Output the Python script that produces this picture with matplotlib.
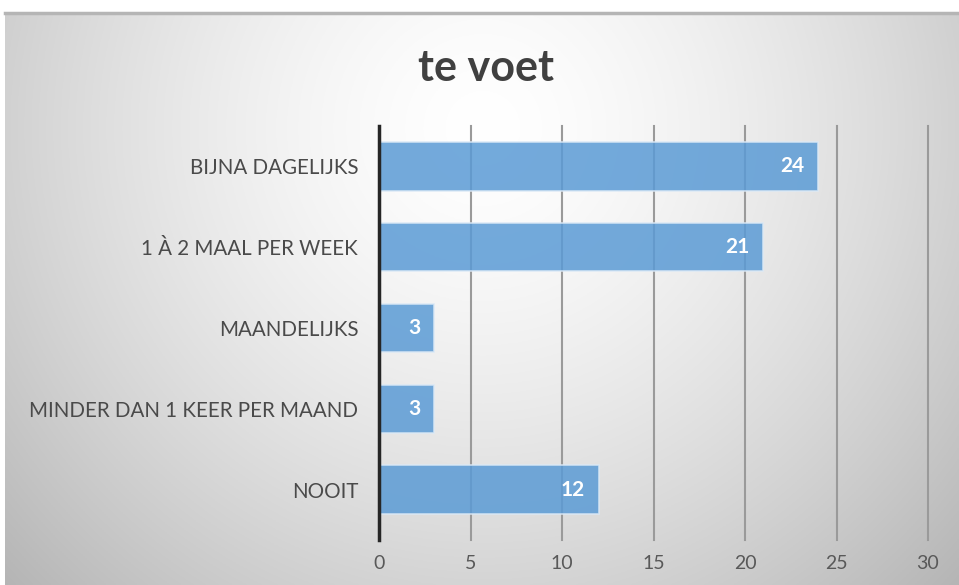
import numpy as np
import matplotlib
matplotlib.use("Agg")
import matplotlib.pyplot as plt

categories = ["BIJNA DAGELIJKS", "1 À 2 MAAL PER WEEK", "MAANDELIJKS",
              "MINDER DAN 1 KEER PER MAAND", "NOOIT"]
values = [24, 21, 3, 3, 12]
xticks = [0, 5, 10, 15, 20, 25, 30]
title = "te voet"

plt.rcParams['font.family'] = ['Lato', 'DejaVu Sans']

W, H = 959, 585
fig = plt.figure(figsize=(W / 100, H / 100), dpi=100)
fig.patch.set_facecolor("white")

# background gradient panel
bx0, by0 = 5 / W, 0
bw, bh = 1 - bx0, (H - 13) / H
bg = fig.add_axes([bx0, by0, bw, bh], zorder=0)
ny, nx = 300, 500
yy, xx = np.mgrid[0:ny, 0:nx]
cx, cy = nx * 0.5, ny * 0.2
r = np.sqrt(((xx - cx) / (nx * 0.6)) ** 2 + ((yy - cy) / (ny * 1.0)) ** 2)
v = 255 - 60 * np.clip(r, 0, 1.3) ** 1.5
img = np.dstack([v, v, v]) / 255.0
bg.imshow(np.clip(img, 0, 1), aspect="auto", extent=[0, 1, 0, 1], origin="upper")
bg.set_xlim(0, 1)
bg.set_ylim(0, 1)
bg.axis("off")
bg.plot([0, 1], [1, 1], color="#b5b5b5", lw=2.5, transform=bg.transAxes, clip_on=False)

ax = fig.add_axes([379 / W, 1 - 530 / H, 549 / W, 404 / H], zorder=1)
ax.patch.set_alpha(0)

y = np.arange(len(categories))
ax.barh(y, values, height=0.6, color="#5b9bd5", alpha=0.85,
        edgecolor="#dbe9f6", linewidth=1.2, zorder=3)
for yi, val in zip(y, values):
    ax.annotate(str(val), xy=(val, yi), xytext=(-10, 0), textcoords="offset points",
                ha="right", va="center", color="white", fontsize=15,
                fontweight="bold", zorder=4)

ax.set_xlim(0, 30)
ax.set_ylim(len(categories) - 0.5, -0.5)
ax.set_xticks(xticks)
ax.set_xticklabels([str(t) for t in xticks])
ax.set_yticks(y)
ax.set_yticklabels(categories)
ax.tick_params(axis="x", length=0, pad=18, labelsize=14, labelcolor="#595959")
ax.tick_params(axis="y", length=0, pad=15, labelsize=14.8, labelcolor="#4a4a4a")
for t in xticks[1:]:
    ax.plot([t, t], [-0.5, len(categories) - 0.5 + 0.12], color="#9a9a9a",
            lw=1.5, zorder=2, clip_on=False)
ax.plot([0, 0], [-0.5, len(categories) - 0.5 + 0.12], color="#262626",
        lw=2.5, zorder=5, clip_on=False)
for s in ax.spines.values():
    s.set_visible(False)

fig.text(486 / W, 1 - 68 / H, title, ha="center", va="center", fontsize=31,
         fontweight="bold", color="#404040", zorder=6)

fig.savefig("out.png", dpi=100)
